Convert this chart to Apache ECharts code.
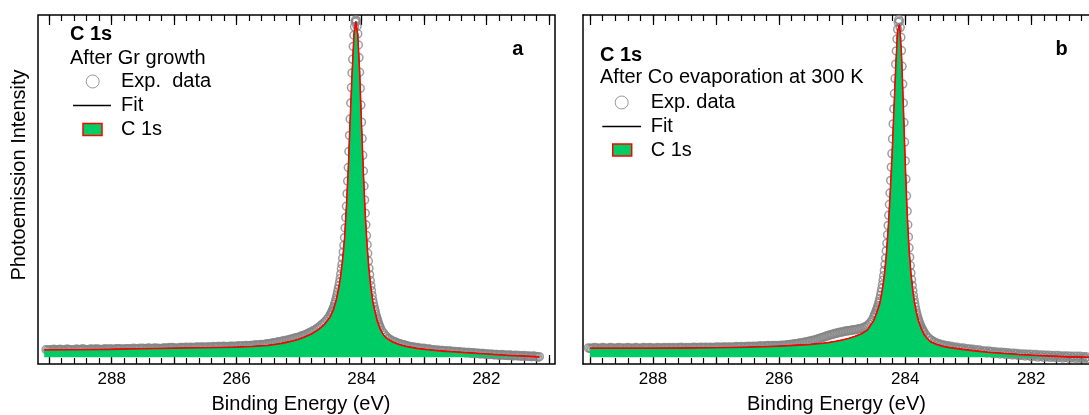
<!DOCTYPE html>
<html><head><meta charset="utf-8">
<script src="https://cdn.jsdelivr.net/npm/echarts@6/dist/echarts.min.js"></script>
<style>html,body{margin:0;padding:0;background:#fff}#c{width:1089px;height:415px}</style>
</head><body><div id="c"></div>
<script>
// ---- Binding energy grid of the measured points (eV) ----
const energy = [
289.05,289.025,289.00,288.975,288.95,288.925,288.90,288.875,
288.85,288.825,288.80,288.775,288.75,288.725,288.70,288.675,
288.65,288.625,288.60,288.575,288.55,288.525,288.50,288.475,
288.45,288.425,288.40,288.375,288.35,288.325,288.30,288.275,
288.25,288.225,288.20,288.175,288.15,288.125,288.10,288.075,
288.05,288.025,288.00,287.975,287.95,287.925,287.90,287.875,
287.85,287.825,287.80,287.775,287.75,287.725,287.70,287.675,
287.65,287.625,287.60,287.575,287.55,287.525,287.50,287.475,
287.45,287.425,287.40,287.375,287.35,287.325,287.30,287.275,
287.25,287.225,287.20,287.175,287.15,287.125,287.10,287.075,
287.05,287.025,287.00,286.975,286.95,286.925,286.90,286.875,
286.85,286.825,286.80,286.775,286.75,286.725,286.70,286.675,
286.65,286.625,286.60,286.575,286.55,286.525,286.50,286.475,
286.45,286.425,286.40,286.375,286.35,286.325,286.30,286.275,
286.25,286.225,286.20,286.175,286.15,286.125,286.10,286.075,
286.05,286.025,286.00,285.975,285.95,285.925,285.90,285.875,
285.85,285.825,285.80,285.775,285.75,285.725,285.70,285.675,
285.65,285.625,285.60,285.575,285.55,285.525,285.50,285.475,
285.45,285.425,285.40,285.375,285.35,285.325,285.30,285.275,
285.25,285.225,285.20,285.175,285.15,285.125,285.10,285.075,
285.05,285.025,285.00,284.975,284.95,284.925,284.90,284.875,
284.85,284.825,284.80,284.775,284.75,284.725,284.70,284.675,
284.65,284.625,284.60,284.575,284.55,284.525,284.50,
284.49,284.48,284.47,284.46,284.45,284.44,284.43,284.42,284.41,284.40,
284.39,284.38,284.37,284.36,284.35,284.34,284.33,284.32,284.31,284.30,
284.29,284.28,284.27,284.26,284.25,284.24,284.23,284.22,284.21,284.20,
284.19,284.18,284.17,284.16,284.15,284.14,284.13,284.12,284.11,284.10,
284.09,284.08,284.07,284.06,284.05,284.04,284.03,284.02,284.01,284.00,
283.99,283.98,283.97,283.96,283.95,283.94,283.93,283.92,283.91,283.90,
283.89,283.88,283.87,283.86,283.85,283.84,283.83,283.82,283.81,283.80,
283.79,283.78,283.77,283.76,283.75,283.74,283.73,283.72,283.71,
283.70,283.675,283.65,283.625,283.60,283.575,283.55,283.525,
283.50,283.475,283.45,283.425,283.40,283.375,283.35,283.325,
283.30,283.275,283.25,283.225,283.20,283.175,283.15,283.125,
283.10,283.075,283.05,283.025,283.00,282.975,282.95,282.925,
282.90,282.875,282.85,282.825,282.80,282.775,282.75,282.725,
282.70,282.675,282.65,282.625,282.60,282.575,282.55,282.525,
282.50,282.475,282.45,282.425,282.40,282.375,282.35,282.325,
282.30,282.275,282.25,282.225,282.20,282.175,282.15,282.125,
282.10,282.075,282.05,282.025,282.00,281.975,281.95,281.925,
281.90,281.875,281.85,281.825,281.80,281.775,281.75,281.725,
281.70,281.675,281.65,281.625,281.60,281.575,281.55,281.525,
281.50,281.475,281.45,281.425,281.40,281.375,281.35,281.325,
281.30,281.275,281.25,281.225,281.20,281.175,281.15,281.125,
281.10,281.075,281.05,281.025,281.00,280.975,280.95,280.925,
280.90
];
// ---- Exp. data, panel a (after Gr growth) ----
const expA = [
4.1,4.0,3.9,4.1,4.1,4.2,4.0,4.1,
4.0,4.2,4.1,3.9,4.0,4.2,4.2,4.1,
4.1,3.9,4.0,4.2,4.2,4.1,4.1,4.3,
4.3,4.1,4.0,4.1,4.2,4.3,4.1,4.2,
4.3,4.2,4.2,4.1,4.1,4.3,4.3,4.2,
4.2,4.3,4.3,4.1,4.2,4.4,4.4,4.3,
4.3,4.2,4.2,4.4,4.3,4.4,4.3,4.2,
4.5,4.4,4.3,4.3,4.5,4.4,4.5,4.3,
4.3,4.5,4.6,4.4,4.4,4.5,4.6,4.4,
4.5,4.4,4.4,4.6,4.6,4.5,4.5,4.7,
4.6,4.7,4.6,4.5,4.5,4.6,4.7,4.7,
4.6,4.7,4.8,4.6,4.7,4.8,4.6,4.7,
4.8,4.9,4.7,4.8,4.9,4.8,4.7,4.9,
4.9,4.8,4.8,5.0,4.9,4.8,5.0,5.0,
4.9,5.0,5.1,4.9,4.9,5.0,5.1,5.0,
5.1,5.0,5.0,5.2,5.1,5.1,5.2,5.1,
5.3,5.2,5.2,5.3,5.3,5.3,5.5,5.4,
5.4,5.5,5.6,5.5,5.6,5.7,5.8,5.8,
5.9,6.0,6.1,6.1,6.2,6.4,6.4,6.5,
6.6,6.7,6.7,6.9,7.0,7.1,7.2,7.4,
7.5,7.6,7.7,7.9,8.1,8.2,8.4,8.6,
8.8,9.0,9.2,9.5,9.7,10.0,10.3,10.6,
11.0,11.4,11.8,12.2,12.8,13.4,14.0,
14.3,14.8,15.0,15.5,16.0,16.4,17.1,17.6,18.3,19.0,
19.8,20.6,21.5,22.4,23.4,24.5,25.8,27.3,28.6,30.3,
32.1,34.0,36.2,39.0,42.0,45.2,48.8,52.4,56.3,60.9,
65.5,70.2,74.8,79.2,83.4,87.3,91.0,94.2,96.6,98.0,
98.6,98.2,96.8,94.6,91.4,87.8,83.6,79.0,74.2,69.3,
64.6,59.8,55.3,51.0,47.0,43.2,39.9,36.8,34.2,31.7,
29.5,27.4,25.6,23.9,22.4,21.0,19.6,18.4,17.4,16.5,
15.7,15.0,14.2,13.5,12.9,12.4,11.8,11.3,10.8,
10.4,9.6,8.9,8.3,7.8,7.4,7.1,6.8,
6.6,6.4,6.2,6.0,5.9,5.7,5.6,5.5,
5.4,5.2,5.1,5.0,4.9,4.9,4.8,4.6,
4.7,4.5,4.5,4.4,4.5,4.3,4.2,4.3,
4.2,4.0,4.1,4.0,3.9,4.0,3.8,3.9,
3.9,3.7,3.8,3.6,3.7,3.7,3.5,3.6,
3.6,3.4,3.5,3.5,3.3,3.4,3.4,3.2,
3.3,3.3,3.1,3.2,3.2,3.0,3.1,3.1,
2.9,3.0,3.0,2.8,2.9,2.9,2.7,2.8,
2.8,2.6,2.7,2.7,2.5,2.6,2.7,2.5,
2.6,2.5,2.4,2.6,2.5,2.3,2.4,2.5,
2.3,2.4,2.3,2.2,2.4,2.3,2.2,2.3,
2.2,2.1,2.3,2.2,2.1,2.0,2.1,null,
null,null,null,null,null,null,null,null,
null
];
// ---- Exp. data, panel b (after Co evaporation at 300 K) ----
const expB = [
null,4.6,4.5,4.4,4.6,4.7,4.5,4.6,
4.4,4.5,4.7,4.6,4.5,4.4,4.6,4.7,
4.5,4.6,4.4,4.5,4.7,4.6,4.5,4.6,
4.4,4.6,4.7,4.5,4.6,4.4,4.5,4.7,
4.6,4.5,4.4,4.6,4.7,4.6,4.5,4.6,
4.7,4.5,4.6,4.4,4.6,4.7,4.5,4.6,
4.5,4.7,4.6,4.5,4.7,4.6,4.5,4.7,
4.6,4.5,4.7,4.6,4.8,4.6,4.5,4.7,
4.6,4.7,4.5,4.7,4.8,4.6,4.7,4.6,
4.8,4.7,4.6,4.8,4.7,4.6,4.8,4.7,
4.6,4.8,4.7,4.9,4.7,4.8,4.7,4.9,
4.8,4.7,4.9,4.8,4.7,4.9,4.8,5.0,
4.8,4.9,5.0,4.8,4.9,5.0,4.9,5.1,
4.9,5.0,5.1,4.9,5.1,5.0,5.2,5.1,
5.0,5.2,5.1,5.3,5.2,5.1,5.3,5.2,
5.3,5.2,5.3,5.3,5.4,5.3,5.4,5.5,
5.5,5.6,5.6,5.7,5.8,5.8,5.9,6.0,
6.0,6.1,6.2,6.3,6.4,6.5,6.6,6.7,
6.8,6.9,7.1,7.2,7.4,7.5,7.7,7.8,
8.0,8.1,8.3,8.4,8.5,8.7,8.8,8.9,
9.0,9.1,9.2,9.3,9.4,9.5,9.5,9.6,
9.7,9.8,9.8,9.9,10.0,10.1,10.2,10.3,
10.5,10.7,11.0,11.4,11.9,12.6,13.3,
13.9,14.3,14.6,15.2,15.6,16.2,16.7,17.4,18.0,18.8,
19.7,20.6,21.6,22.7,24.0,25.3,26.8,28.5,30.3,32.4,
34.6,37.0,39.7,42.6,45.7,49.0,52.6,56.4,60.3,64.5,
68.8,73.1,77.5,81.8,85.9,89.7,93.1,95.9,97.9,98.7,
98.2,96.4,93.6,89.8,85.3,80.2,74.8,69.2,63.6,58.2,
53.0,48.2,43.8,39.9,36.4,33.3,30.6,28.2,26.1,24.2,
22.5,21.0,19.6,18.4,17.3,16.3,15.4,14.6,13.9,13.2,
12.6,12.1,11.6,11.1,10.7,10.3,9.9,9.6,9.3,
9.0,8.4,7.7,7.4,6.9,6.7,6.3,6.2,
5.9,5.9,5.5,5.6,5.2,5.4,5.0,5.2,
4.8,5.1,4.6,4.9,4.4,4.8,4.3,4.6,
4.2,4.6,4.0,4.4,4.1,4.3,3.8,4.2,
3.6,4.1,3.7,4.0,3.4,3.8,3.5,3.7,
3.2,3.7,3.3,3.6,3.0,3.5,3.1,3.4,
2.9,3.4,3.0,3.3,2.7,3.2,2.8,3.1,
2.6,3.1,2.7,3.0,2.4,2.9,2.5,2.9,
2.3,2.8,2.4,2.8,2.1,2.7,2.3,2.7,
2.0,2.6,2.2,2.6,1.9,2.5,2.1,2.5,
1.9,2.4,2.0,2.4,1.8,2.4,1.9,2.3,
1.7,2.3,1.9,2.3,1.6,2.2,1.8,2.2,
1.6,2.2,1.7,2.2,1.6,2.1,1.7,2.1,
1.5,2.1,1.6,2.1,1.4,2.0,1.6,2.0,
1.9
];
// ---- Fit curve (background + C 1s component) ----
const fitE = [289.08,289.0,288.5,288.0,287.5,287.0,286.5,286.0,285.75,285.5,
285.3,285.2,285.1,285.0,284.9,284.8,284.7,284.6,284.5,284.45,
284.4,284.36,284.33,284.3,284.27,284.24,284.21,284.18,284.15,284.12,
284.09,284.06,284.03,284.0,283.97,283.94,283.91,283.88,283.85,283.82,
283.79,283.75,283.7,283.65,283.6,283.5,283.4,283.3,283.1,282.9,
282.7,282.5,282.2,282.0,281.7,281.4,281.15,280.9];
const fitA = [4.0,4.0,4.1,4.2,4.35,4.5,4.65,4.8,5.0,5.3,
5.8,6.2,6.6,7.1,7.8,8.6,9.7,11.2,13.5,15.5,
18.5,22,25.5,30,36,45,56,70,83,94,
98.1,94.5,84,69,55,43,34,27,22,18,
15.5,12.5,10,8.4,7.4,6.3,5.6,5.1,4.4,4.0,
3.7,3.45,3.1,2.85,2.5,2.25,2.05,null];
const fitB = [null,4.5,4.5,4.5,4.55,4.65,4.8,5.1,5.35,5.6,
5.95,6.2,6.5,6.85,7.3,7.9,8.6,9.7,12.4,14.7,
17.5,21.5,25.5,31,38.5,48,59,72,85,95.5,
97.2,89,74,57.5,43.5,33,26,21,17.3,14.5,
12.3,10.3,8.4,7.3,6.4,5.6,5.05,4.7,4.2,3.75,
3.35,3.1,2.7,2.5,2.25,2.05,1.95,1.9];
const bgA = 1.9, bgB = 1.9;   // background level under the C 1s component
// ---- Axis ticks / labels ----
const labelTicks = [282, 284, 286, 288];
const majorTicks = [281, 282, 283, 284, 285, 286, 287, 288, 289];
const minorTicks = [281,281.2,281.4,281.6,281.8,282,282.2,282.4,282.6,282.8,283,283.2,283.4,283.6,283.8,
284,284.2,284.4,284.6,284.8,285,285.2,285.4,285.6,285.8,286,286.2,286.4,286.6,286.8,287,287.2,287.4,
287.6,287.8,288,288.2,288.4,288.6,288.8,289];
const xTitle = 'Binding Energy (eV)';
const yTitle = 'Photoemission Intensity';

const FONT = '"Liberation Sans", Arial, Helvetica, sans-serif';
const GREEN = '#00CC66', RED = '#FF0000', GRAY = '#858585';

function toPairs(xs, ys) {
  const out = [];
  for (let i = 0; i < xs.length; i++) if (ys[i] != null) out.push([xs[i], ys[i]]);
  return out;
}

const panels = [
  {grid: {left: 38, width: 517}, min: 280.90, max: 289.18, namePad: [0, 0, 0, 9], border: true},
  {grid: {left: 583, right: 0}, min: 281.085, max: 289.11, namePad: [0, 0, 0, 1], border: false}
];
const grids = [], xAxes = [], yAxes = [];
const frameLine = {show: true, onZero: false, lineStyle: {color: '#000', width: 1.5}};
panels.forEach((p, g) => {
  grids.push(Object.assign({top: 15, height: 349, show: p.border, outerBoundsMode: 'none',
    borderColor: '#000', borderWidth: 1.5, backgroundColor: 'transparent', containLabel: false}, p.grid));
  const base = {type: 'value', gridIndex: g, min: p.min, max: p.max, inverse: true,
    axisLine: {show: false}, splitLine: {show: false}, axisLabel: {show: false}};
  xAxes.push(Object.assign({}, base, {position: 'bottom',
    axisLine: p.border ? {show: false} : frameLine,
    axisTick: {show: true, inside: true, length: 9, customValues: majorTicks, lineStyle: {color: '#000', width: 1.2}},
    axisLabel: {show: true, customValues: labelTicks, margin: 7, fontSize: 17, color: '#000', fontFamily: FONT},
    name: xTitle, nameLocation: 'middle', nameGap: 30,
    nameTextStyle: {fontSize: 20, color: '#000', fontFamily: FONT, padding: p.namePad}}));
  xAxes.push(Object.assign({}, base, {position: 'bottom',
    axisTick: {show: true, inside: true, length: 6, customValues: minorTicks, lineStyle: {color: '#000', width: 1.2}}}));
  xAxes.push(Object.assign({}, base, {position: 'top',
    axisLine: p.border ? {show: false} : frameLine,
    axisTick: {show: true, inside: true, length: 10, customValues: majorTicks, lineStyle: {color: '#000', width: 1.2}}}));
  xAxes.push(Object.assign({}, base, {position: 'top',
    axisTick: {show: true, inside: true, length: 6, customValues: minorTicks, lineStyle: {color: '#000', width: 1.2}}}));
  const y = {type: 'value', gridIndex: g, min: 0, max: 100,
    axisLine: p.border ? {show: false} : frameLine,
    axisTick: {show: false}, axisLabel: {show: false}, splitLine: {show: false}};
  if (g === 0) Object.assign(y, {name: yTitle, nameLocation: 'middle', nameGap: 9,
    nameTextStyle: {fontSize: 20, color: '#000', fontFamily: FONT, padding: [0, 0, 0, 29]}});
  yAxes.push(y);
});

function panelSeries(g, exp, fit, bg) {
  return [
    {type: 'scatter', name: 'Exp. data', xAxisIndex: g * 4, yAxisIndex: g, data: toPairs(energy, exp),
      symbol: 'circle', symbolSize: 8, z: 2, silent: true,
      itemStyle: {color: 'rgba(255,255,255,0)', borderColor: GRAY, borderWidth: 1.5}},
    {type: 'line', name: 'Fit', xAxisIndex: g * 4, yAxisIndex: g, data: toPairs(fitE, fit),
      symbol: 'none', z: 3, silent: true, lineStyle: {color: '#000', width: 1}},
    {type: 'line', name: 'C 1s', xAxisIndex: g * 4, yAxisIndex: g, data: toPairs(fitE, fit),
      symbol: 'none', z: 4, silent: true, lineStyle: {color: RED, width: 1.6},
      areaStyle: {color: GREEN, opacity: 1, origin: bg}}
  ];
}

function txt(x, y, s, bold, align) {
  return {type: 'text', x: x, y: y, silent: true, z: 100,
    style: {text: s, fill: '#000', font: (bold ? 'bold ' : '') + '20px ' + FONT,
      align: align || 'left', verticalAlign: 'middle'}};
}
function legendBlock(x0, yTitleB, ySub, sub, yExp, expTxt, yFit, yC, cx, lx1, lx2, rx, tx) {
  return [
    txt(x0, yTitleB, 'C 1s', true),
    txt(x0, ySub, sub, false),
    {type: 'circle', silent: true, z: 100, shape: {cx: cx, cy: yExp, r: 6.5}, style: {fill: '#fff', stroke: '#999', lineWidth: 1}},
    txt(tx, yExp, expTxt, false),
    {type: 'line', silent: true, z: 100, shape: {x1: lx1, y1: yFit, x2: lx2, y2: yFit}, style: {stroke: '#000', lineWidth: 1.5}},
    txt(tx, yFit, 'Fit', false),
    {type: 'rect', silent: true, z: 100, shape: {x: rx, y: yC - 6, width: 19, height: 12}, style: {fill: GREEN, stroke: RED, lineWidth: 1.5}},
    txt(tx, yC, 'C 1s', false)
  ];
}

const graphic = [].concat(
  legendBlock(70, 34.5, 58.5, 'After Gr growth', 81.5, 'Exp.  data', 105.5, 129.5, 92.7, 73, 111, 83, 121),
  legendBlock(600, 55, 77, 'After Co evaporation at 300 K', 102.5, 'Exp. data', 126.5, 150, 621.7, 602.3, 641, 612.7, 650.7),
  [txt(517.7, 49.7, 'a', true, 'center'), txt(1061.5, 49.7, 'b', true, 'center')]
);

const chart = echarts.init(document.getElementById('c'), null, {renderer: 'canvas'});
chart.setOption({
  animation: false,
  backgroundColor: '#fff',
  textStyle: {fontFamily: FONT},
  grid: grids, xAxis: xAxes, yAxis: yAxes,
  series: [].concat(panelSeries(0, expA, fitA, bgA), panelSeries(1, expB, fitB, bgB)),
  graphic: graphic
});
</script></body></html>
